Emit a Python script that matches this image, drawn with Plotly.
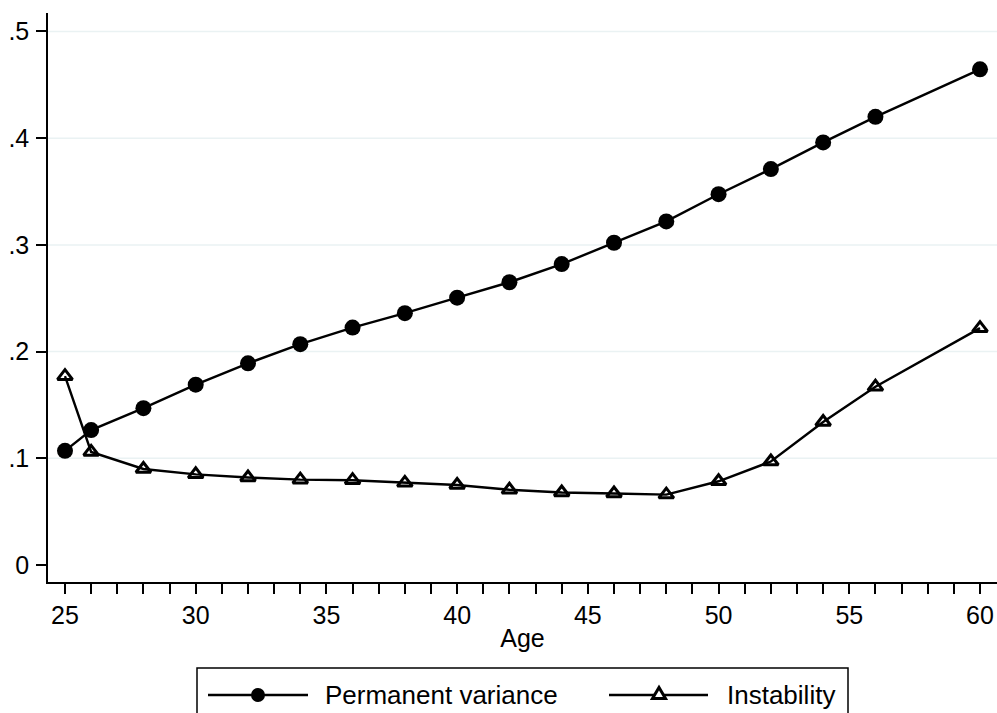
import plotly.graph_objects as go

# ---- data ----
ages = [25, 26, 28, 30, 32, 34, 36, 38, 40, 42, 44, 46, 48, 50, 52, 54, 56, 60]
permanent_variance = [0.107, 0.1265, 0.147, 0.169, 0.189, 0.207, 0.2225, 0.236, 0.2505,
                      0.265, 0.282, 0.302, 0.322, 0.3475, 0.371, 0.396, 0.420, 0.4645]
instability = [0.177, 0.106, 0.090, 0.085, 0.082, 0.080, 0.0795, 0.077, 0.075,
               0.0705, 0.068, 0.067, 0.066, 0.0785, 0.097, 0.134, 0.167, 0.222]
y_tickvals = [0, 0.1, 0.2, 0.3, 0.4, 0.5]
y_ticktext = ["0", ".1", ".2", ".3", ".4", ".5"]
grid_vals = [0.1, 0.2, 0.3, 0.4, 0.5]
series_names = ["Permanent variance", "Instability"]

# ---- layout geometry ----
W, H = 997, 713
L, R, T, B = 48, 0, 13, 131
PW, PH = W - L - R, H - T - B
FONT = "Liberation Sans, Arial, sans-serif"
FS = 25
GRID = "#eaf2f3"


def px_x(px):
    return (px - L) / PW


def px_y(py):
    return (H - B - py) / PH


fig = go.Figure()
fig.add_trace(go.Scatter(
    x=ages, y=permanent_variance, mode="lines+markers", name=series_names[0],
    line=dict(color="black", width=2.4),
    marker=dict(symbol="circle", size=16, color="black"),
    showlegend=False, cliponaxis=False))
fig.add_trace(go.Scatter(
    x=ages, y=instability, mode="lines+markers", name=series_names[1],
    line=dict(color="black", width=2.4),
    marker=dict(symbol="triangle-up-open", size=13, color="black",
                line=dict(color="black", width=3)),
    showlegend=False, cliponaxis=False))

shapes = []
for g in grid_vals:
    shapes.append(dict(type="line", xref="paper", yref="y", x0=0, x1=1, y0=g, y1=g,
                       line=dict(color=GRID, width=1.5), layer="below"))

# ---- custom legend (below the plot) ----
ly = 695
shapes.append(dict(type="rect", xref="paper", yref="paper",
                   x0=px_x(197), x1=px_x(848), y0=px_y(668), y1=px_y(760),
                   line=dict(color="black", width=1.5), fillcolor="white", layer="above"))
shapes.append(dict(type="line", xref="paper", yref="paper",
                   x0=px_x(208), x1=px_x(308), y0=px_y(ly), y1=px_y(ly),
                   line=dict(color="black", width=2.4)))
shapes.append(dict(type="circle", xref="paper", yref="paper",
                   xsizemode="pixel", ysizemode="pixel",
                   xanchor=px_x(258), yanchor=px_y(ly),
                   x0=-7, x1=7, y0=-7, y1=7,
                   fillcolor="black", line=dict(color="black", width=0)))
shapes.append(dict(type="line", xref="paper", yref="paper",
                   x0=px_x(609), x1=px_x(708), y0=px_y(ly), y1=px_y(ly),
                   line=dict(color="black", width=2.4)))
shapes.append(dict(type="path", xref="paper", yref="paper",
                   xsizemode="pixel", ysizemode="pixel",
                   xanchor=px_x(659), yanchor=px_y(ly),
                   path="M-6.5,-3.5 L6.5,-3.5 L0,7.5 Z",
                   fillcolor="white", line=dict(color="black", width=3)))

annotations = [
    dict(text=series_names[0], xref="paper", yref="paper", x=px_x(323), y=px_y(ly),
         xanchor="left", yanchor="middle", showarrow=False,
         font=dict(family=FONT, size=26, color="black")),
    dict(text=series_names[1], xref="paper", yref="paper", x=px_x(725), y=px_y(ly),
         xanchor="left", yanchor="middle", showarrow=False,
         font=dict(family=FONT, size=26, color="black")),
]

fig.update_layout(
    width=W, height=H,
    margin=dict(l=L, r=R, t=T, b=B, autoexpand=False),
    paper_bgcolor="white", plot_bgcolor="white",
    font=dict(family=FONT, size=FS, color="black"),
    shapes=shapes, annotations=annotations,
    xaxis=dict(
        range=[24.35, 60.65], tick0=0, dtick=5,
        ticks="outside", ticklen=10, tickwidth=1.5, tickcolor="black",
        showline=True, linecolor="black", linewidth=1.5,
        showgrid=False, zeroline=False,
        minor=dict(dtick=1, ticks="outside", ticklen=10, tickwidth=1.5, tickcolor="black",
                   showgrid=False),
        title=dict(text="Age", font=dict(size=FS), standoff=2),
        tickfont=dict(size=FS),
    ),
    yaxis=dict(
        range=[-0.0159, 0.5173], tickvals=y_tickvals, ticktext=y_ticktext,
        ticks="outside", ticklen=10, tickwidth=1.5, tickcolor="black",
        showline=True, linecolor="black", linewidth=1.5,
        showgrid=False, zeroline=False, tickfont=dict(size=FS),
        ticklabelstandoff=2,
    ),
)

fig.write_html("out.html")
